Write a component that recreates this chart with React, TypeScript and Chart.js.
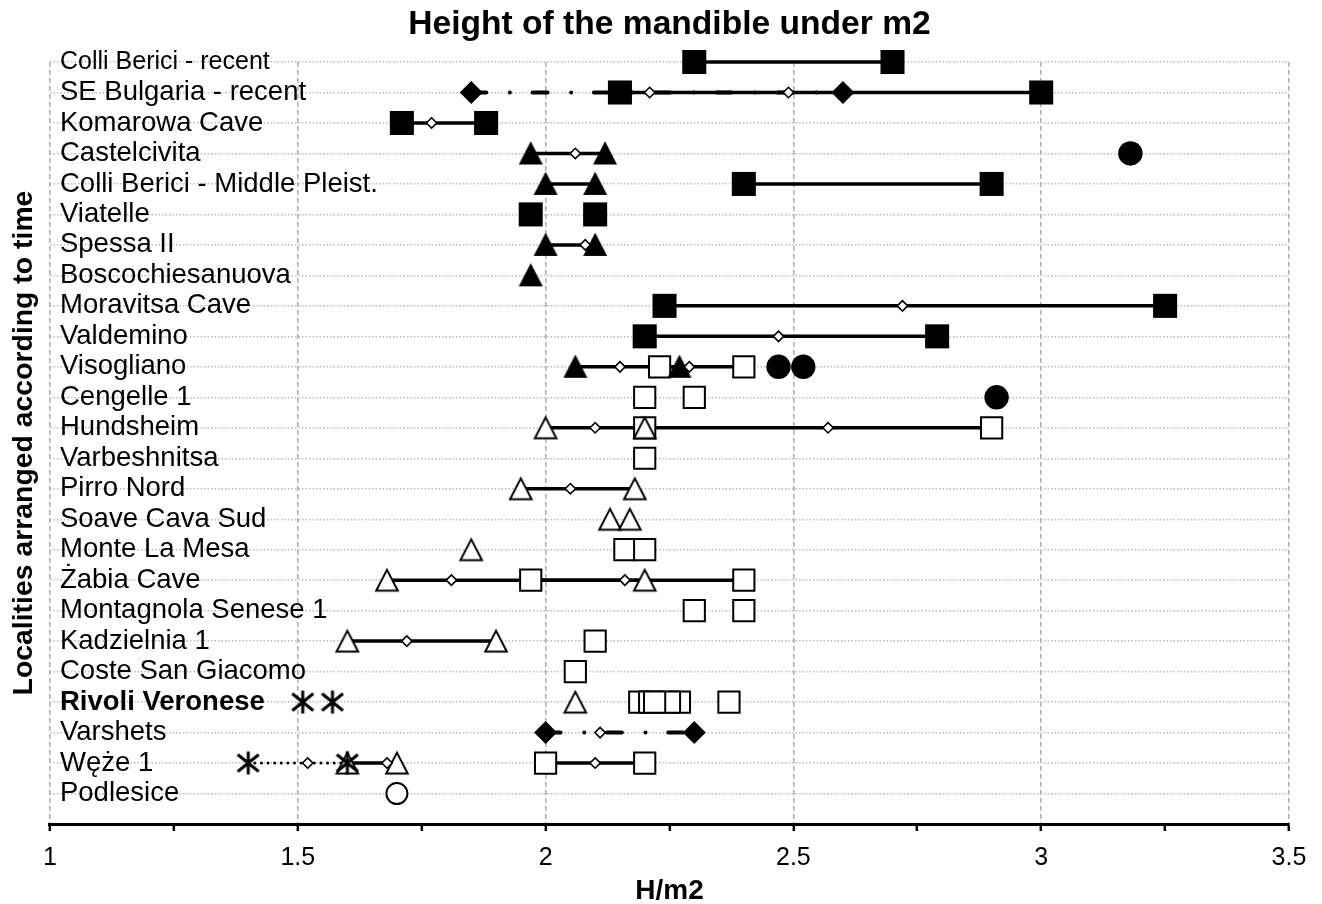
import React, { useEffect, useRef } from 'react';
import { Chart, registerables } from 'chart.js';

Chart.register(...registerables);

const TITLE = 'Height of the mandible under m2';
const X_TITLE = 'H/m2';
const Y_TITLE = 'Localities arranged according to time';

const locations = [
  'Colli Berici - recent',
  'SE Bulgaria - recent',
  'Komarowa Cave',
  'Castelcivita',
  'Colli Berici - Middle Pleist.',
  'Viatelle',
  'Spessa II',
  'Boscochiesanuova',
  'Moravitsa Cave',
  'Valdemino',
  'Visogliano',
  'Cengelle 1',
  'Hundsheim',
  'Varbeshnitsa',
  'Pirro Nord',
  'Soave Cava Sud',
  'Monte La Mesa',
  'Żabia Cave',
  'Montagnola Senese 1',
  'Kadzielnia 1',
  'Coste San Giacomo',
  'Rivoli Veronese',
  'Varshets',
  'Węże 1',
  'Podlesice',
];
const boldLocation = 'Rivoli Veronese';

const xTicksMajor = [1, 1.5, 2, 2.5, 3, 3.5];

type Pts = [string, number[]][];
type Rng = [string, number, number][];

const filledSquares: Pts = [
  ['Colli Berici - recent', [2.3, 2.7]],
  ['SE Bulgaria - recent', [2.15, 3.0]],
  ['Komarowa Cave', [1.71, 1.88]],
  ['Colli Berici - Middle Pleist.', [2.4, 2.9]],
  ['Viatelle', [1.97, 2.1]],
  ['Moravitsa Cave', [2.24, 3.25]],
  ['Valdemino', [2.2, 2.79]],
];
const filledTriangles: Pts = [
  ['Castelcivita', [1.97, 2.12]],
  ['Colli Berici - Middle Pleist.', [2.0, 2.1]],
  ['Spessa II', [2.0, 2.1]],
  ['Boscochiesanuova', [1.97]],
  ['Visogliano', [2.06, 2.27]],
];
const filledDiamonds: Pts = [
  ['SE Bulgaria - recent', [1.85, 2.6]],
  ['Varshets', [2.0, 2.3]],
];
const filledCircles: Pts = [
  ['Castelcivita', [3.18]],
  ['Visogliano', [2.47, 2.52]],
  ['Cengelle 1', [2.91]],
];
const openSquares: Pts = [
  ['Visogliano', [2.23, 2.4]],
  ['Cengelle 1', [2.2, 2.3]],
  ['Hundsheim', [2.2, 2.9]],
  ['Varbeshnitsa', [2.2]],
  ['Monte La Mesa', [2.16, 2.2]],
  ['Żabia Cave', [1.97, 2.4]],
  ['Montagnola Senese 1', [2.3, 2.4]],
  ['Kadzielnia 1', [2.1]],
  ['Coste San Giacomo', [2.06]],
  ['Rivoli Veronese', [2.19, 2.21, 2.27, 2.25, 2.22, 2.37]],
  ['Węże 1', [2.0, 2.2]],
];
const openTriangles: Pts = [
  ['Hundsheim', [2.0, 2.2]],
  ['Pirro Nord', [1.95, 2.18]],
  ['Soave Cava Sud', [2.13, 2.17]],
  ['Monte La Mesa', [1.85]],
  ['Żabia Cave', [1.68, 2.2]],
  ['Kadzielnia 1', [1.6, 1.9]],
  ['Rivoli Veronese', [2.06]],
  ['Węże 1', [1.6, 1.7]],
];
const openCircles: Pts = [['Podlesice', [1.7]]];
const asterisks: Pts = [
  ['Rivoli Veronese', [1.51, 1.57]],
  ['Węże 1', [1.4, 1.6]],
];
const means: Pts = [
  ['SE Bulgaria - recent', [2.21, 2.49]],
  ['Komarowa Cave', [1.77]],
  ['Castelcivita', [2.06]],
  ['Spessa II', [2.08]],
  ['Moravitsa Cave', [2.72]],
  ['Valdemino', [2.47]],
  ['Visogliano', [2.15, 2.29]],
  ['Hundsheim', [2.1, 2.57]],
  ['Pirro Nord', [2.05]],
  ['Żabia Cave', [1.81, 2.16]],
  ['Kadzielnia 1', [1.72]],
  ['Varshets', [2.11]],
  ['Węże 1', [1.52, 1.68, 2.1]],
];

const solidRanges: Rng = [
  ['Colli Berici - recent', 2.3, 2.7],
  ['SE Bulgaria - recent', 2.15, 3.0],
  ['Komarowa Cave', 1.71, 1.88],
  ['Castelcivita', 1.97, 2.12],
  ['Colli Berici - Middle Pleist.', 2.0, 2.1],
  ['Colli Berici - Middle Pleist.', 2.4, 2.9],
  ['Spessa II', 2.0, 2.1],
  ['Moravitsa Cave', 2.24, 3.25],
  ['Valdemino', 2.2, 2.79],
  ['Visogliano', 2.06, 2.27],
  ['Visogliano', 2.23, 2.4],
  ['Hundsheim', 2.0, 2.2],
  ['Hundsheim', 2.2, 2.9],
  ['Pirro Nord', 1.95, 2.18],
  ['Żabia Cave', 1.68, 2.2],
  ['Żabia Cave', 1.97, 2.4],
  ['Kadzielnia 1', 1.6, 1.9],
  ['Węże 1', 1.6, 1.7],
  ['Węże 1', 2.0, 2.2],
];
const dashDotRanges: Rng = [
  ['SE Bulgaria - recent', 1.85, 2.6],
  ['Varshets', 2.0, 2.3],
];
const dottedRanges: Rng = [['Węże 1', 1.4, 1.6]];

const rowOf = (loc: string) => locations.indexOf(loc);
const toPoints = (list: Pts) =>
  list.flatMap(([loc, vals]) => vals.map((v) => ({ x: v, y: rowOf(loc) })));

function makeCanvas(w: number, h: number, draw: (g: CanvasRenderingContext2D) => void) {
  const c = document.createElement('canvas');
  c.width = w;
  c.height = h;
  const g = c.getContext('2d') as CanvasRenderingContext2D;
  draw(g);
  return c;
}

export default function App() {
  const ref = useRef<HTMLCanvasElement | null>(null);

  useEffect(() => {
    document.body.style.margin = '0';
    if (!ref.current) return;
    Chart.defaults.font.family = "'Liberation Sans', Arial, sans-serif";
    Chart.defaults.color = '#000';

    const filledTri = makeCanvas(26, 26, (g) => {
      g.fillStyle = '#000';
      g.beginPath();
      g.moveTo(13, 0.8);
      g.lineTo(25, 24);
      g.lineTo(1, 24);
      g.closePath();
      g.fill();
    });
    const openTri = makeCanvas(26, 26, (g) => {
      g.fillStyle = '#fff';
      g.strokeStyle = '#000';
      g.lineWidth = 2;
      g.beginPath();
      g.moveTo(13, 2.6);
      g.lineTo(23.8, 23.6);
      g.lineTo(2.2, 23.6);
      g.closePath();
      g.fill();
      g.stroke();
    });
    const aster = makeCanvas(24, 24, (g) => {
      g.strokeStyle = '#000';
      g.lineWidth = 3;
      g.beginPath();
      g.moveTo(12, 0.5);
      g.lineTo(12, 23.5);
      g.moveTo(1.5, 3.5);
      g.lineTo(22.5, 20.5);
      g.moveTo(1.5, 20.5);
      g.lineTo(22.5, 3.5);
      g.stroke();
    });

    const lineDs = (r: [string, number, number], extra: any) => ({
      data: [
        { x: r[1], y: rowOf(r[0]) },
        { x: r[2], y: rowOf(r[0]) },
      ],
      showLine: true,
      pointRadius: 0,
      borderColor: '#000',
      clip: false,
      order: 100,
      ...extra,
    });

    const markerDs = (list: Pts, extra: any) => ({
      data: toPoints(list),
      showLine: false,
      clip: false,
      pointBorderColor: '#000',
      ...extra,
    });

    const datasets: any[] = [
      ...solidRanges.map((r) => lineDs(r, { borderWidth: 3.5, borderCapStyle: 'butt' })),
      ...dashDotRanges.map((r) =>
        lineDs(r, { borderWidth: 4, borderCapStyle: 'round', borderDash: [15, 23.6, 0.01, 22.7] })
      ),
      ...dottedRanges.map((r) =>
        lineDs(r, { borderWidth: 3, borderCapStyle: 'round', borderDash: [0.01, 6.6] })
      ),
      markerDs(openSquares, {
        pointStyle: 'rect', pointRadius: 15, pointBorderWidth: 2,
        pointBackgroundColor: '#fff', order: 60,
      }),
      markerDs(filledSquares, {
        pointStyle: 'rect', pointRadius: 17, pointBorderWidth: 0,
        pointBackgroundColor: '#000', order: 55,
      }),
      markerDs(openTriangles, { pointStyle: openTri, pointRadius: 12, order: 50 }),
      markerDs(filledTriangles, { pointStyle: filledTri, pointRadius: 12, order: 45 }),
      markerDs(filledCircles, {
        pointStyle: 'circle', pointRadius: 12.2, pointBorderWidth: 0,
        pointBackgroundColor: '#000', order: 40,
      }),
      markerDs(openCircles, {
        pointStyle: 'circle', pointRadius: 10.5, pointBorderWidth: 2,
        pointBackgroundColor: '#fff', order: 40,
      }),
      markerDs(filledDiamonds, {
        pointStyle: 'rectRot', pointRadius: 11.5, pointBorderWidth: 0,
        pointBackgroundColor: '#000', order: 35,
      }),
      markerDs(asterisks, { pointStyle: aster, pointRadius: 12, order: 30 }),
      markerDs(means, {
        pointStyle: 'rectRot', pointRadius: 5.2, pointBorderWidth: 1.6,
        pointBackgroundColor: '#fff', order: 1,
      }),
    ];

    const isMajor = (v: number) => xTicksMajor.some((m) => Math.abs(m - v) < 1e-9);

    const chart = new Chart(ref.current, {
      type: 'scatter',
      data: { datasets },
      options: {
        responsive: false,
        animation: false,
        events: [],
        layout: { padding: { top: 0, right: 33, bottom: 0, left: 0 } },
        plugins: {
          legend: { display: false },
          tooltip: { enabled: false },
          title: {
            display: true,
            fullSize: false,
            text: TITLE,
            color: '#000',
            font: { size: 33.6, weight: 'bold' },
            padding: { top: 4.9, bottom: 16.8 },
          },
        },
        scales: {
          x: {
            type: 'linear',
            position: 'bottom',
            min: 1,
            max: 3.5,
            ticks: {
              stepSize: 0.25,
              maxTicksLimit: 40,
              autoSkip: false,
              maxRotation: 0,
              color: '#000',
              font: { size: 25 },
              padding: 12.3,
              callback: (v: any) => (isMajor(Number(v)) ? String(v) : ''),
            },
            grid: {
              color: (c: any) => (c.tick && isMajor(c.tick.value) ? '#b3b3b3' : 'rgba(0,0,0,0)'),
              lineWidth: 1.6,
              tickColor: '#000',
              tickWidth: 2.5,
              tickLength: 7,
              tickBorderDash: [],
            },
            border: { display: true, color: '#000', width: 3, dash: [5, 3] },
            title: {
              display: true,
              text: X_TITLE,
              color: '#000',
              font: { size: 28, weight: 'bold' },
              padding: { top: -11.4, bottom: -3.8 },
            },
          },
          y: {
            type: 'linear',
            position: 'left',
            reverse: true,
            min: 0,
            max: 25,
            ticks: {
              stepSize: 1,
              maxTicksLimit: 40,
              autoSkip: false,
              mirror: true,
              crossAlign: 'near',
              padding: 10,
              color: '#000',
              font: (c: any) => ({
                size: c.tick && c.tick.value === 0 ? 25 : 27.5,
                weight: c.tick && locations[c.tick.value] === boldLocation ? 'bold' : 'normal',
              }),
              callback: (v: any) => locations[Number(v)] ?? '',
            },
            grid: { color: '#bdbdbd', lineWidth: 1.4, drawTicks: false },
            border: { display: false, dash: [1.5, 2] },
            title: {
              display: true,
              text: Y_TITLE,
              color: '#000',
              font: { size: 28.4, weight: 'bold' },
              padding: { top: 7.2, bottom: -11.3 },
            },
          },
        },
      } as any,
    });

    return () => chart.destroy();
  }, []);

  return <canvas ref={ref} width={1322} height={904} style={{ display: 'block' }} />;
}
